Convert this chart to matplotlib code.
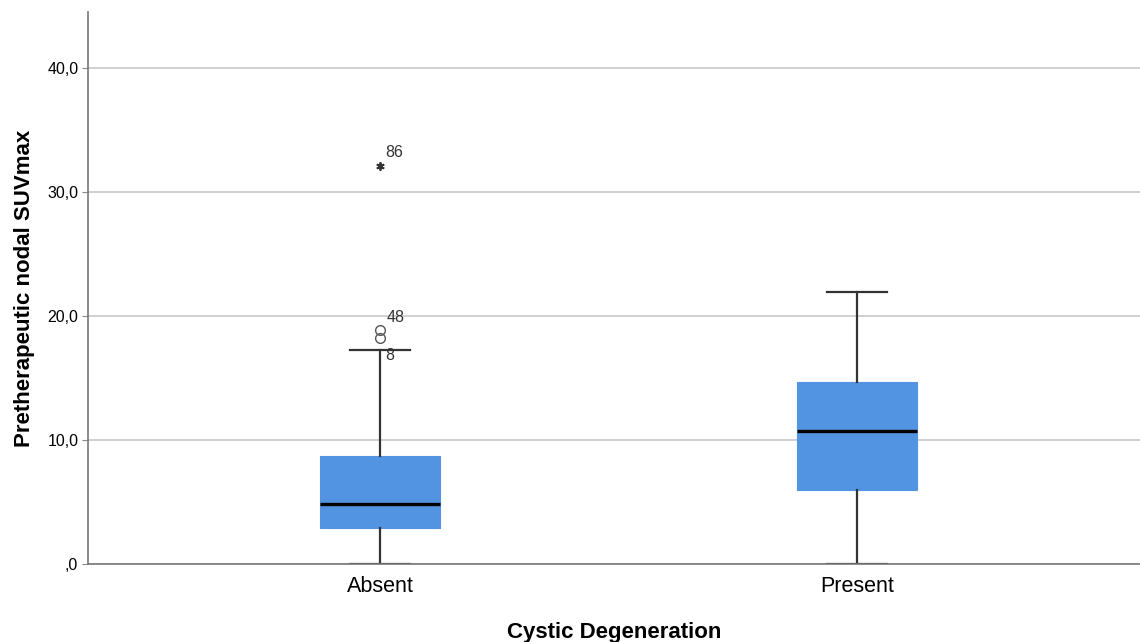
import matplotlib
matplotlib.use("Agg")
import matplotlib.pyplot as plt

plt.rcParams["font.family"] = ["Liberation Sans", "DejaVu Sans"]

# data
groups = ["Absent", "Present"]
q1 = [2.9, 5.95]
medians = [4.85, 10.75]
q3 = [8.7, 14.7]
whislo = [0.0, 0.0]
whishi = [17.25, 21.95]
fliers = [[18.2, 18.9], []]
extremes = [[32.1], []]
flier_ids = [["8", "48"], []]
extreme_ids = [["86"], []]

box_color = "#5294e2"

fig = plt.figure(figsize=(11.4, 6.42), dpi=100)
ax = fig.add_axes([0.0772, 0.1215, 0.9228, 0.8595])

stats = []
for i, g in enumerate(groups):
    stats.append(dict(label=g, q1=q1[i], med=medians[i], q3=q3[i],
                      whislo=whislo[i], whishi=whishi[i], fliers=fliers[i]))

ax.bxp(stats, positions=[1, 2], widths=0.25, patch_artist=True,
       boxprops=dict(facecolor=box_color, edgecolor=box_color, linewidth=0.8),
       medianprops=dict(color="black", linewidth=2.4),
       whiskerprops=dict(color="#333333", linewidth=1.6),
       capprops=dict(color="#333333", linewidth=1.6),
       capwidths=0.125,
       flierprops=dict(marker="o", markerfacecolor="none", markeredgecolor="#555555",
                       markersize=7, markeredgewidth=1.0))

for i in range(len(groups)):
    pos = i + 1
    for v in extremes[i]:
        ax.plot(pos, v, marker=(6, 2, 0), color="#333333", markersize=6,
                markeredgewidth=1.3, linestyle="none")
    for v, lab in zip(extremes[i], extreme_ids[i]):
        ax.text(pos + 0.01, v + 0.5, lab, fontsize=11.5, color="#333333", ha="left", va="bottom")
    for v, lab in zip(fliers[i], flier_ids[i]):
        if lab == "8":
            ax.text(pos + 0.01, v - 1.4, lab, fontsize=11.5, color="#333333", ha="left", va="center")
        else:
            ax.text(pos + 0.013, v + 0.4, lab, fontsize=11.5, color="#333333", ha="left", va="bottom")

ax.set_xlim(0.388, 2.593)
ax.set_ylim(0, 44.5)
ax.set_yticks([0, 10, 20, 30, 40])
ax.set_yticklabels([",0", "10,0", "20,0", "30,0", "40,0"], fontsize=11.5)
ax.set_xticks([1, 2])
ax.set_xticklabels(groups, fontsize=15.5)
ax.tick_params(axis="x", length=0, pad=9)
ax.tick_params(axis="y", length=4, color="#888888", pad=3)

ax.yaxis.grid(True, color="#c8c8c8", linewidth=1.2)
ax.set_axisbelow(True)
for s in ["top", "right"]:
    ax.spines[s].set_visible(False)
ax.spines["left"].set_color("#777777")
ax.spines["bottom"].set_color("#777777")
ax.spines["left"].set_linewidth(1.2)
ax.spines["bottom"].set_linewidth(1.2)

ax.set_ylabel("Pretherapeutic nodal SUVmax", fontsize=16, fontweight="bold", labelpad=9)
ax.set_xlabel("Cystic Degeneration", fontsize=16, fontweight="bold", labelpad=18)

fig.savefig("out.png", dpi=100)
